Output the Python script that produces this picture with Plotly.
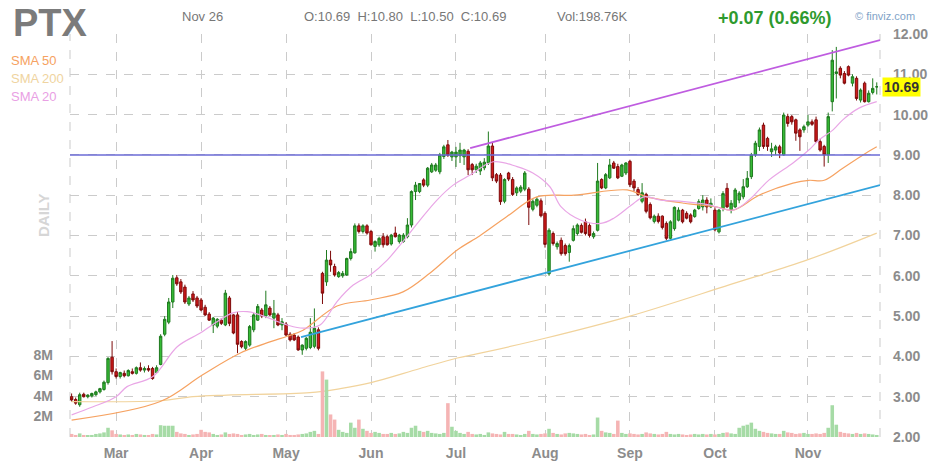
import plotly.graph_objects as go

# ---------------- data ----------------
ticker = "PTX"
header_date = "Nov 26"
header_ohlc = "O:10.69  H:10.80  L:10.50  C:10.69"
header_vol = "Vol:198.76K"
header_change = "+0.07 (0.66%)"
last_price = 10.69

# trading-day index (0 = Feb 13) of the first session of each month
month_idx = [11, 32, 53, 74, 95, 117, 138, 159, 182]
month_labels = ["Mar", "Apr", "May", "Jun", "Jul", "Aug", "Sep", "Oct", "Nov"]

price_ticks = [2, 3, 4, 5, 6, 7, 8, 9, 10, 11, 12]
vol_ticks = [2, 4, 6, 8]
vol_tick_labels = ["2M", "4M", "6M", "8M"]

opens = [
    3.00, 2.93, 2.80, 3.06, 3.00, 3.02, 3.05, 3.12, 3.18, 3.35,
    3.98, 3.62, 3.50, 3.58, 3.52, 3.62, 3.58, 3.72, 3.66, 3.70,
    3.70, 3.60, 3.80, 4.55, 4.85, 5.35, 5.95, 5.85, 5.72, 5.30,
    5.55, 5.45, 5.40, 5.22, 5.05, 4.78, 4.75, 4.90, 4.78, 5.45,
    5.03, 5.03, 4.37, 4.20, 4.28, 4.66, 4.90, 5.15, 5.00, 5.20,
    4.95, 5.03, 4.78, 4.80, 4.55, 4.53, 4.48, 4.16, 4.20, 4.22,
    4.25, 4.66, 6.06, 5.85, 6.39, 6.23, 5.98, 6.00, 6.02, 6.43,
    6.57, 7.24, 7.10, 7.24, 7.10, 6.73, 6.77, 6.97, 6.97, 6.79,
    7.06, 6.85, 6.85, 6.97, 7.26, 8.09, 8.09, 8.38, 8.25, 8.58,
    8.62, 8.58, 8.96, 9.25, 8.95, 8.95, 8.98, 8.95, 9.09, 8.76,
    8.63, 8.60, 8.68, 8.80, 9.22, 8.51, 8.50, 7.85, 8.55, 8.39,
    8.06, 8.10, 8.15, 8.15, 7.65, 7.75, 7.86, 7.55, 6.05, 7.05,
    6.72, 6.88, 6.75, 6.58, 6.88, 7.05, 7.25, 7.34, 7.25, 6.97,
    7.13, 8.39, 8.18, 8.43, 8.80, 8.71, 8.47, 8.55, 8.84, 8.35,
    8.14, 7.85, 8.02, 7.77, 7.35, 7.48, 7.48, 7.30, 6.93, 7.17,
    7.38, 7.63, 7.55, 7.51, 7.47, 7.67, 7.71, 7.88, 7.71, 7.63,
    7.09, 7.67, 8.17, 7.63, 7.71, 7.88, 7.96, 8.21, 8.46, 9.00,
    9.21, 9.74, 9.41, 9.08, 9.12, 9.20, 9.00, 9.95, 9.95, 9.87,
    9.62, 9.62, 9.74, 9.82, 9.87, 9.33, 9.21, 9.00, 10.32, 11.02,
    11.15, 11.02, 11.19, 10.78, 10.90, 10.36, 10.78, 10.32, 10.55, 10.69,
]
highs = [
    3.08, 2.98, 3.10, 3.10, 3.06, 3.10, 3.15, 3.22, 3.40, 3.98,
    4.38, 3.70, 3.62, 3.65, 3.68, 3.70, 3.75, 3.85, 3.75, 3.78,
    3.74, 3.78, 4.55, 5.00, 5.45, 6.02, 6.02, 5.92, 5.78, 5.50,
    5.62, 5.50, 5.45, 5.28, 5.10, 4.98, 4.95, 4.95, 5.65, 5.50,
    5.05, 5.10, 4.40, 4.40, 4.78, 5.08, 5.30, 5.20, 5.63, 5.25,
    5.40, 5.08, 4.95, 4.85, 4.60, 4.58, 4.52, 4.30, 4.48, 4.95,
    5.19, 4.72, 6.10, 6.64, 6.62, 6.30, 6.12, 6.12, 6.45, 6.68,
    7.30, 7.30, 7.28, 7.28, 7.14, 6.88, 6.97, 7.06, 7.02, 7.04,
    7.22, 7.04, 7.06, 7.43, 8.12, 8.33, 8.30, 8.42, 8.70, 8.80,
    8.80, 9.05, 9.25, 9.37, 9.10, 9.20, 9.30, 9.15, 9.14, 8.80,
    8.78, 8.85, 8.92, 9.58, 9.30, 8.55, 8.55, 8.42, 8.58, 8.45,
    8.22, 8.25, 8.60, 8.20, 7.90, 7.95, 7.92, 7.60, 7.18, 7.10,
    6.85, 6.95, 6.80, 6.80, 7.25, 7.30, 7.30, 7.42, 7.30, 7.10,
    8.80, 8.42, 8.55, 8.90, 8.85, 8.78, 8.78, 8.82, 8.88, 8.40,
    8.20, 8.30, 8.06, 7.82, 7.52, 7.55, 7.50, 7.35, 7.38, 7.72,
    7.70, 7.66, 7.60, 7.55, 7.66, 7.90, 8.00, 7.95, 7.92, 7.70,
    7.66, 8.10, 8.30, 7.88, 8.18, 8.10, 8.40, 8.60, 9.05, 9.35,
    9.68, 9.80, 9.45, 9.30, 9.25, 9.25, 10.05, 10.02, 9.99, 9.90,
    9.66, 9.75, 9.99, 9.88, 9.95, 9.40, 9.25, 10.05, 11.60, 11.68,
    11.20, 11.08, 11.22, 11.00, 10.95, 10.65, 10.82, 10.60, 10.90, 10.80,
]
lows = [
    2.88, 2.80, 2.75, 2.98, 2.96, 2.98, 3.02, 3.08, 3.15, 3.30,
    3.55, 3.45, 3.45, 3.48, 3.50, 3.55, 3.55, 3.62, 3.60, 3.62,
    3.42, 3.58, 3.78, 4.50, 4.80, 5.20, 5.75, 5.55, 5.30, 5.25,
    5.35, 5.20, 5.12, 5.00, 4.88, 4.58, 4.70, 4.78, 4.75, 4.75,
    4.55, 4.08, 4.20, 4.15, 4.24, 4.60, 4.88, 4.95, 4.95, 5.00,
    4.70, 4.75, 4.65, 4.50, 4.37, 4.38, 4.14, 4.04, 4.15, 4.18,
    4.20, 4.15, 5.30, 5.75, 6.10, 5.98, 5.95, 5.95, 6.00, 6.38,
    6.55, 7.05, 7.05, 7.02, 6.75, 6.60, 6.72, 6.70, 6.75, 6.75,
    6.95, 6.80, 6.82, 6.93, 7.20, 7.88, 8.05, 8.20, 8.20, 8.55,
    8.58, 8.52, 8.90, 8.95, 8.85, 8.70, 8.80, 8.75, 8.50, 8.50,
    8.55, 8.50, 8.62, 8.75, 8.35, 8.30, 7.76, 7.80, 8.35, 7.98,
    7.98, 8.05, 8.10, 7.26, 7.60, 7.70, 7.45, 6.70, 6.00, 6.75,
    6.65, 6.50, 6.50, 6.35, 6.85, 7.00, 7.05, 7.00, 6.95, 6.92,
    7.10, 8.15, 8.15, 8.40, 8.65, 8.40, 8.45, 8.50, 8.20, 8.10,
    7.98, 7.80, 7.55, 7.40, 7.30, 7.30, 7.15, 6.88, 6.90, 7.12,
    7.35, 7.30, 7.40, 7.30, 7.44, 7.64, 7.62, 7.55, 7.68, 7.10,
    7.05, 7.60, 7.68, 7.55, 7.68, 7.80, 7.90, 8.18, 8.40, 8.95,
    9.10, 9.15, 9.10, 8.95, 9.00, 8.92, 8.98, 9.70, 9.75, 9.35,
    9.10, 9.55, 9.70, 9.72, 9.30, 9.08, 8.71, 8.80, 10.08, 10.40,
    10.90, 10.75, 10.95, 10.70, 10.35, 10.30, 10.30, 10.30, 10.50, 10.50,
]
closes = [
    2.92, 2.84, 3.05, 3.00, 3.04, 3.08, 3.12, 3.20, 3.36, 3.95,
    3.62, 3.50, 3.60, 3.52, 3.65, 3.58, 3.72, 3.66, 3.70, 3.66,
    3.45, 3.72, 4.50, 4.92, 5.35, 5.94, 5.80, 5.60, 5.35, 5.45,
    5.40, 5.25, 5.15, 5.03, 4.90, 4.95, 4.92, 4.82, 5.57, 4.82,
    4.58, 4.30, 4.24, 4.37, 4.74, 5.03, 5.24, 5.00, 5.28, 5.03,
    5.07, 4.78, 4.86, 4.53, 4.41, 4.41, 4.16, 4.28, 4.45, 4.60,
    4.70, 4.20, 5.57, 6.39, 6.27, 6.02, 6.08, 6.06, 6.43, 6.60,
    7.24, 7.10, 7.24, 7.06, 6.77, 6.85, 6.93, 6.77, 6.77, 7.01,
    6.97, 7.01, 7.01, 7.26, 8.09, 8.25, 8.29, 8.25, 8.67, 8.75,
    8.75, 9.00, 9.20, 8.99, 9.07, 9.07, 9.12, 9.12, 8.63, 8.63,
    8.72, 8.80, 8.82, 9.22, 8.43, 8.35, 7.84, 8.39, 8.40, 8.02,
    8.18, 8.20, 8.55, 7.70, 7.85, 7.90, 7.49, 6.78, 7.13, 6.80,
    6.80, 6.55, 6.55, 6.75, 7.17, 7.26, 7.08, 7.05, 7.00, 7.05,
    8.35, 8.18, 8.51, 8.75, 8.67, 8.43, 8.75, 8.80, 8.26, 8.18,
    8.02, 8.06, 7.60, 7.44, 7.48, 7.35, 7.20, 6.93, 7.34, 7.70,
    7.63, 7.34, 7.43, 7.34, 7.63, 7.84, 7.88, 7.71, 7.80, 7.14,
    7.63, 8.04, 7.71, 7.80, 8.13, 8.05, 8.21, 8.42, 9.00, 9.29,
    9.62, 9.21, 9.21, 9.15, 9.20, 9.05, 9.99, 9.78, 9.82, 9.54,
    9.45, 9.70, 9.82, 9.76, 9.33, 9.12, 9.00, 9.95, 11.35, 11.06,
    10.98, 10.78, 10.98, 10.94, 10.40, 10.61, 10.32, 10.53, 10.65, 10.69,
]
volumes_m = [
    0.30, 0.20, 0.35, 0.20, 0.15, 0.20, 0.30, 0.35, 0.45, 0.90,
    0.65, 0.30, 0.25, 0.20, 0.25, 0.20, 0.30, 0.25, 0.20, 0.20,
    0.30, 0.25, 1.15, 1.10, 1.10, 1.10, 0.50, 0.35, 0.30, 0.20,
    0.25, 0.30, 0.70, 0.50, 0.45, 0.30, 0.20, 0.25, 0.45, 0.30,
    0.35, 0.30, 0.20, 0.25, 0.30, 0.20, 0.25, 0.30, 0.20, 0.15,
    0.20, 0.25, 0.20, 0.30, 0.20, 0.20, 0.25, 0.30, 0.35, 0.50,
    0.60, 0.30, 6.40, 5.60, 2.20, 1.70, 0.70, 0.50, 0.40, 1.40,
    0.90, 1.70, 0.80, 0.60, 0.40, 0.50, 0.40, 0.30, 0.30, 0.40,
    0.30, 0.35, 0.50, 0.40, 0.90, 1.10, 0.60, 0.50, 0.60, 0.40,
    0.35, 0.30, 0.40, 3.30, 1.00, 0.60, 0.40, 0.30, 0.50, 0.30,
    0.25, 0.30, 0.20, 0.45, 0.35, 0.30, 0.25, 0.50, 0.30, 0.30,
    0.25, 0.20, 0.30, 0.60, 0.30, 0.25, 0.30, 0.35, 0.80, 0.40,
    0.30, 0.25, 0.35, 0.40, 0.35, 0.30, 0.25, 0.30, 0.20, 0.25,
    1.90, 0.60, 0.45, 0.40, 0.30, 1.60, 0.40, 0.30, 0.35, 0.30,
    0.25, 0.30, 0.45, 0.35, 0.30, 0.25, 0.30, 0.50, 0.30, 0.25,
    0.30, 0.25, 0.20, 0.25, 0.30, 0.25, 0.30, 0.25, 0.30, 0.25,
    0.30, 0.40, 0.45, 0.35, 0.30, 0.90, 1.10, 1.20, 1.40, 0.80,
    0.60, 0.50, 0.40, 0.35, 0.30, 0.30, 0.60, 0.45, 0.40, 0.30,
    0.35, 0.40, 0.30, 0.30, 0.35, 0.30, 0.40, 0.90, 3.10, 1.20,
    0.50, 0.40, 0.35, 0.30, 0.40, 0.30, 0.35, 0.30, 0.25, 0.20,
]

# moving averages (trading-day index, value)
sma20_idx = [0, 5.3, 11, 13.7, 20.1, 26.1, 31.8, 35, 39.9, 43.4, 46.6, 53.3, 57.2, 61.4,
             65.6, 69.6, 73.8, 78, 81.9, 86.1, 90.3, 94.3, 98.5, 104.2, 110.1, 114,
             118.2, 121, 125.9, 130.8, 134, 138.3, 141.5, 145.7, 151.4, 157.5, 163.5,
             167.4, 172.4, 178.3, 182.2, 184.7, 188.2, 190.6, 194.6, 199]
sma20_val = [2.55, 2.75, 3.0, 3.25, 3.5, 4.24, 4.58, 4.8, 5.08, 5.11, 5.03, 4.78, 4.7, 4.78,
             5.36, 5.77, 6.02, 6.39, 6.85, 7.38, 7.88, 8.25, 8.5, 8.83, 8.71, 8.55,
             8.21, 7.71, 7.38, 7.3, 7.43, 7.75, 7.96, 7.88, 7.84, 7.76, 7.63,
             7.88, 8.38, 8.8, 9.12, 9.37, 9.62, 9.87, 10.16, 10.32]
sma50_idx = [0, 21.9, 32.3, 41.6, 49, 53.3, 57.2, 65.6, 73.8, 81.9, 88.6, 95.3, 101,
             107.6, 115, 124.2, 137.3, 142.2, 151.4, 159.3, 163.5, 169.9, 178.3, 182.2,
             186, 190.6, 195.6, 199]
sma50_val = [2.42, 2.88, 3.54, 4.08, 4.36, 4.5, 4.65, 5.25, 5.4, 5.6, 6.07, 6.64, 7.0,
             7.47, 7.96, 8.0, 8.13, 7.96, 7.8, 7.71, 7.63, 8.0, 8.3, 8.37,
             8.37, 8.67, 9.0, 9.2]
sma200_idx = [0, 21.9, 30, 38.4, 58.9, 66.4, 74, 86.1, 95.3, 101, 117, 138, 162.7, 182, 199]
sma200_val = [2.88, 2.9, 3.0, 3.04, 3.1, 3.2, 3.35, 3.7, 3.96, 4.08, 4.45, 5.0, 5.78, 6.4, 7.06]

# trendlines drawn on the chart (trading-day index, price)
upper_line_idx = [98.5, 199.8]
upper_line_val = [9.17, 11.85]
lower_line_idx = [56.7, 199.8]
lower_line_val = [4.48, 8.25]
resistance_level = 9.0

# ---------------- layout helpers ----------------
W, H = 936, 465
PAGE_OFF = 8                      # the page body offsets the figure by 8 px
PL, PR, PT, PB = 70, 880, 34, 437  # plot box in window pixels
ML = PL - PAGE_OFF
MT = PT - PAGE_OFF
MR = W - (PR - PAGE_OFF)
MB = H - (PB - PAGE_OFF)
X0, X1 = -0.4, 199.8
PW, PH = PR - PL, PB - PT


def px(x):
    return (x - PL) / PW


def py(y):
    return (PB - y) / PH


FONT = "Arial, Liberation Sans, sans-serif"
GRID = "#cbcbcb"
LABEL = "#8c8c8c"

idx = list(range(len(closes)))
vol_colors = ["#a6dba6" if c >= o else "#f5b4b4" for o, c in zip(opens, closes)]

fig = go.Figure()

fig.add_trace(go.Bar(x=idx, y=volumes_m, marker=dict(color=vol_colors, line=dict(width=0)),
                     yaxis="y2", hoverinfo="skip", showlegend=False))

fig.add_trace(go.Scatter(x=sma200_idx, y=sma200_val, mode="lines",
                         line=dict(color="#f1d39c", width=1.2, shape="spline"), showlegend=False))
fig.add_trace(go.Scatter(x=sma50_idx, y=sma50_val, mode="lines",
                         line=dict(color="#f6a261", width=1.2, shape="spline"), showlegend=False))
fig.add_trace(go.Scatter(x=sma20_idx, y=sma20_val, mode="lines",
                         line=dict(color="#e9a6e6", width=1.2, shape="spline"), showlegend=False))

fig.add_trace(go.Scatter(x=[X0, X1], y=[resistance_level, resistance_level], mode="lines",
                         line=dict(color="#6b6bd6", width=1.5), showlegend=False))
fig.add_trace(go.Scatter(x=upper_line_idx, y=upper_line_val, mode="lines",
                         line=dict(color="#bf5ce0", width=1.8), showlegend=False))
fig.add_trace(go.Scatter(x=lower_line_idx, y=lower_line_val, mode="lines",
                         line=dict(color="#33a3dc", width=1.8), showlegend=False))

fig.add_trace(go.Candlestick(
    x=idx, open=opens, high=highs, low=lows, close=closes,
    increasing=dict(line=dict(color="#1f7a1f", width=1), fillcolor="#35bb35"),
    decreasing=dict(line=dict(color="#7d0a0a", width=1), fillcolor="#d11a1a"),
    whiskerwidth=0, showlegend=False))

ann = []
ann.append(dict(x=px(11), y=py(23), text="<b>" + ticker + "</b>", showarrow=False,
                xanchor="left", yanchor="middle", font=dict(size=38, color="#7b7b7b", family=FONT)))
ann.append(dict(x=px(180), y=py(17), text=header_date, showarrow=False, xanchor="left",
                yanchor="middle", font=dict(size=13, color="#777", family=FONT)))
ann.append(dict(x=px(302), y=py(17), text=header_ohlc, showarrow=False, xanchor="left",
                yanchor="middle", font=dict(size=13, color="#777", family=FONT)))
ann.append(dict(x=px(555), y=py(17), text=header_vol, showarrow=False, xanchor="left",
                yanchor="middle", font=dict(size=13, color="#777", family=FONT)))
ann.append(dict(x=px(716), y=py(18), text="<b>" + header_change + "</b>", showarrow=False,
                xanchor="left", yanchor="middle", font=dict(size=18, color="#2e9a2e", family=FONT)))
ann.append(dict(x=px(853), y=py(16), text="© finviz.com", showarrow=False, xanchor="left",
                yanchor="middle", font=dict(size=11, color="#7fa3c8", family=FONT)))
for label, col, yy in [("SMA 50", "#f6a261", 60), ("SMA 200", "#efd4a0", 78), ("SMA 20", "#e9a0e4", 96)]:
    ann.append(dict(x=px(9), y=py(yy), text=label, showarrow=False, xanchor="left",
                    yanchor="middle", font=dict(size=13, color=col, family=FONT)))
ann.append(dict(x=px(43), y=py(215), text="<b>DAILY</b>", showarrow=False, textangle=-90,
                xanchor="center", yanchor="middle", font=dict(size=15, color="#d6d6d6", family=FONT)))
ann.append(dict(x=px(882), y=last_price, yref="y", xref="paper", text="<b>" + f"{last_price:.2f}" + "</b>",
                showarrow=False, xanchor="left", yanchor="middle", bgcolor="#ffff00",
                borderpad=1, font=dict(size=14, color="#333", family=FONT)))
for a in ann:
    a.setdefault("xref", "paper")
    a.setdefault("yref", "paper")

shapes = []
for xp in (0, 1):
    shapes.append(dict(type="line", xref="paper", yref="paper", x0=xp, x1=xp, y0=0, y1=1,
                       line=dict(color=GRID, width=1, dash="dash"), layer="below"))

fig.update_layout(
    width=W, height=H, margin=dict(l=ML, r=MR, t=MT, b=MB, autoexpand=False),
    paper_bgcolor="white", plot_bgcolor="white",
    showlegend=False, boxgap=0.15, bargap=0.12,
    annotations=ann, shapes=shapes,
    xaxis=dict(range=[X0, X1], tickmode="array", tickvals=month_idx, ticktext=month_labels,
               showgrid=True, gridcolor=GRID, griddash="dash", gridwidth=1, zeroline=False,
               showline=False, ticks="", ticklabelstandoff=6, automargin=False,
               tickfont=dict(size=14, color=LABEL, family=FONT, weight="bold"),
               rangeslider=dict(visible=False), fixedrange=True),
    yaxis=dict(range=[2, 12], side="right", tickmode="array", tickvals=price_ticks,
               ticktext=[f"{v:.2f}" for v in price_ticks], showgrid=True, gridcolor=GRID,
               griddash="dash", zeroline=False, showline=False, ticks="", ticklabelstandoff=12,
               automargin=False,
               tickfont=dict(size=14, color=LABEL, family=FONT, weight="bold")),
    yaxis2=dict(range=[0, PH / 10.25], overlaying="y", side="left", tickmode="array",
                tickvals=vol_ticks, ticktext=vol_tick_labels, showgrid=False, zeroline=False,
                showline=False, ticks="", ticklabelstandoff=16, automargin=False,
                tickfont=dict(size=14, color=LABEL, family=FONT, weight="bold")),
)

fig.write_html("out.html")
